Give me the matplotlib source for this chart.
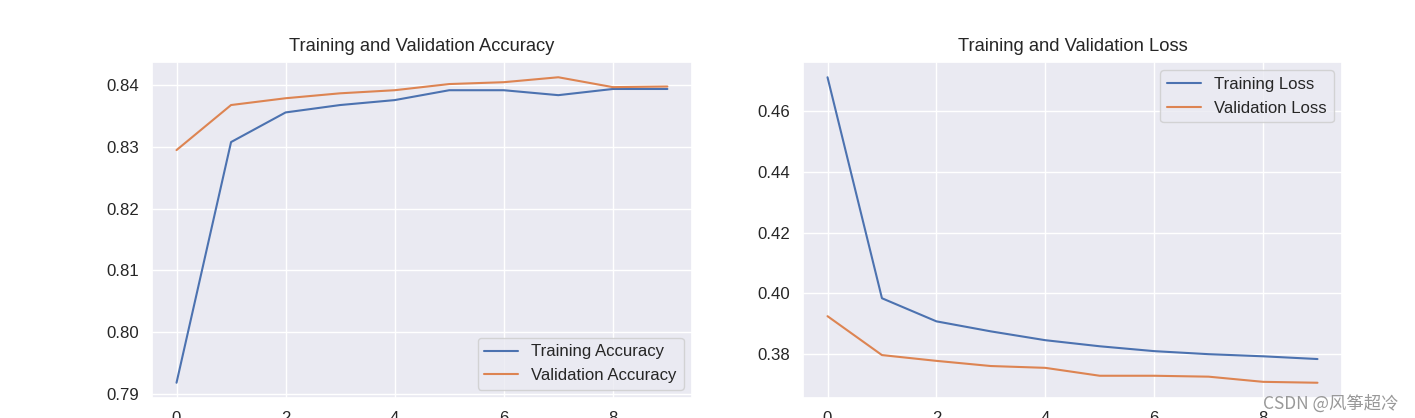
import matplotlib
matplotlib.use("Agg")
import matplotlib.pyplot as plt
import seaborn as sns

sns.set_theme(font_scale=1.1)
plt.rcParams['font.family'] = ['Liberation Sans', 'DejaVu Sans']

# Values
epochs = list(range(10))
acc = [0.7918, 0.8308, 0.8356, 0.8368, 0.8376, 0.8392, 0.8392, 0.8384, 0.8394, 0.8394]
val_acc = [0.8295, 0.8368, 0.8379, 0.8387, 0.8392, 0.8402, 0.8405, 0.8413, 0.8397, 0.8398]
loss = [0.4711, 0.3984, 0.3908, 0.3875, 0.3846, 0.3826, 0.3810, 0.3800, 0.3793, 0.3784]
val_loss = [0.3925, 0.3797, 0.3778, 0.3761, 0.3755, 0.3729, 0.3729, 0.3726, 0.3709, 0.3706]

fig = plt.figure(figsize=(14.15, 4.18), dpi=100)

# Axes placed so that the bottom tick labels fall off the figure, as in the reference
ax1 = fig.add_axes([0.1074, 0.0478, 0.3816, 0.8039])
ax1.plot(epochs, acc, label='Training Accuracy')
ax1.plot(epochs, val_acc, label='Validation Accuracy')
ax1.legend(loc='lower right')
ax1.set_title('Training and Validation Accuracy', pad=8)

ax2 = fig.add_axes([0.5675, 0.0478, 0.3809, 0.8039])
ax2.plot(epochs, loss, label='Training Loss')
ax2.plot(epochs, val_loss, label='Validation Loss')
ax2.legend(loc='upper right')
ax2.set_title('Training and Validation Loss', pad=8)

# watermark
fig.text(0.988, 0.012, 'CSDN @风筝超冷', ha='right', va='bottom', fontsize=12.5,
         color='#999999', family=['Noto Sans CJK SC', 'DejaVu Sans'])

fig.savefig('out.png', dpi=100)
